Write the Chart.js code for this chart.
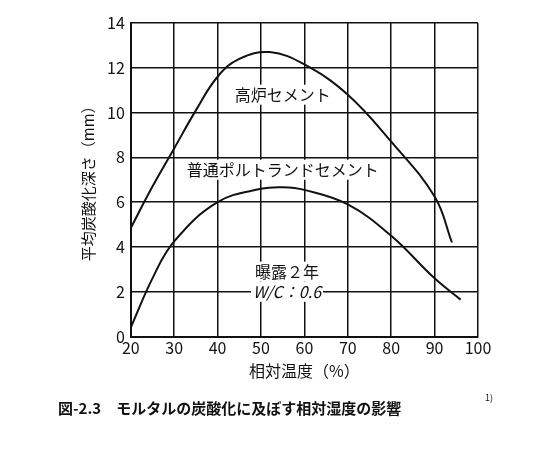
<!DOCTYPE html>
<html>
<head>
<meta charset="utf-8">
<script src="https://cdn.jsdelivr.net/npm/chart.js@4"></script>
<style>body{margin:0;background:#fff}</style>
</head>
<body>
<canvas id="c" width="540" height="449"></canvas>
<script>
// relative humidity (%) vs carbonation depth (mm)
const blastX = [20, 25, 30, 35, 40, 45, 52, 60, 70, 80, 90, 94]
const blastY = [4.85, 6.7, 8.4, 10.1, 11.6, 12.4, 12.7, 12.15, 10.8, 8.7, 6.25, 4.2]
const opcX = [20, 25, 30, 40, 50, 55, 60, 70, 80, 90, 96]
const opcY = [0.4, 2.6, 4.25, 6.0, 6.6, 6.67, 6.55, 5.9, 4.5, 2.6, 1.65]
const xTicks = [20, 30, 40, 50, 60, 70, 80, 90, 100]
const yTicks = [0, 2, 4, 6, 8, 10, 12, 14]

const FONT = '"Noto Sans CJK JP", "Noto Sans", sans-serif'

const labels = [
  { x: 55, y: 10.8, text: '高炉セメント' },
  { x: 55, y: 7.45, text: '普通ポルトランドセメント' },
  { x: 56, y: 2.9, text: '曝露２年' },
  { x: 56, y: 2.0, text: 'W/C：0.6', italic: true }
]

const textPlugin = {
  id: 'texts',
  afterDatasetsDraw(chart) {
    const { ctx, scales: { x, y } } = chart
    ctx.save()
    ctx.textAlign = 'center'
    ctx.textBaseline = 'middle'
    labels.forEach(l => {
      ctx.font = (l.italic ? 'italic ' : '') + '16px ' + FONT
      const px = x.getPixelForValue(l.x), py = y.getPixelForValue(l.y)
      const w = ctx.measureText(l.text).width
      ctx.fillStyle = '#fff'
      ctx.fillRect(px - w / 2 - 2, py - 10, w + 4, 20)
      ctx.fillStyle = '#111'
      ctx.fillText(l.text, px, py)
    })
    ctx.font = 'bold 15px ' + FONT
    ctx.textAlign = 'left'
    ctx.fillText('図-2.3　モルタルの炭酸化に及ぼす相対湿度の影響', 58, 408)
    ctx.font = '9px ' + FONT
    ctx.fillText('1)', 485, 398)
    ctx.restore()
  }
}

new Chart(document.getElementById('c'), {
  type: 'scatter',
  data: {
    datasets: [
      { data: blastX.map((v, i) => ({ x: v, y: blastY[i] })) },
      { data: opcX.map((v, i) => ({ x: v, y: opcY[i] })) }
    ]
  },
  options: {
    responsive: false,
    animation: false,
    showLine: true,
    layout: { padding: { left: 75, right: 62, top: 23, bottom: 66 } },
    elements: {
      point: { radius: 0 },
      line: { borderColor: '#111', borderWidth: 2, tension: 0.4 }
    },
    plugins: { legend: { display: false }, tooltip: { enabled: false } },
    scales: {
      x: {
        type: 'linear', min: 20, max: 100,
        afterBuildTicks: s => { s.ticks = xTicks.map(v => ({ value: v })) },
        grid: { color: '#111', lineWidth: 1.5, drawTicks: false },
        border: { color: '#111', width: 2 },
        ticks: { color: '#111', font: { family: FONT, size: 16 }, padding: 2 },
        title: { display: true, text: '相対温度（%）', color: '#111', font: { family: FONT, size: 16 }, padding: 2 }
      },
      y: {
        min: 0, max: 14,
        afterBuildTicks: s => { s.ticks = yTicks.map(v => ({ value: v })) },
        grid: { color: '#111', lineWidth: 1.5, drawTicks: false },
        border: { color: '#111', width: 2 },
        ticks: { color: '#111', font: { family: FONT, size: 16 }, padding: 6 },
        title: { display: true, text: '平均炭酸化深さ（mm）', color: '#111', font: { family: FONT, size: 15 }, padding: 4 }
      }
    }
  },
  plugins: [textPlugin]
})
</script>
</body>
</html>
